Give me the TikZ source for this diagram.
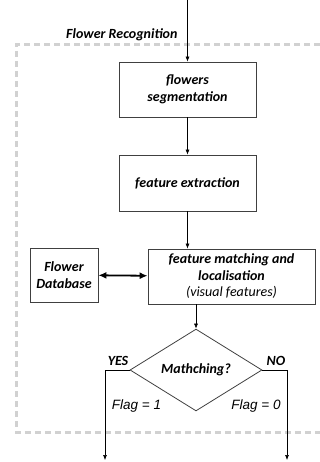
\documentclass[tikz,border=0pt]{standalone}
\usepackage{fontspec}
\setmainfont{Carlito}
\newfontfamily\flagfont{Liberation Sans}
\usetikzlibrary{arrows.meta,shapes.geometric}
\tikzset{
  labeltext/.style={font=\fontsize{14}{16.5}\selectfont\bfseries\itshape},
  blockbox/.style={draw=black!75, line width=0.8pt, align=center, inner sep=2pt, labeltext},
  flagtext/.style={font=\flagfont\fontsize{13.5}{15}\selectfont\itshape},
  flow/.style={-{Latex[length=5pt,width=4pt]}, line width=0.6pt},
}
\begin{document}
\begin{tikzpicture}[x=1pt,y=-1pt]
        \useasboundingbox (0,0) rectangle (320,462);
        % dashed frame of the recognition stage
        \draw[black!18, line width=3pt, dash pattern=on 6pt off 4pt] (340,45) -- (16,45) -- (16,432) -- (340,432);
        \node[anchor=east, labeltext] (title) at (181,35) {Flower Recognition};

        \coordinate (in) at (187.5,0);
        \node[blockbox, minimum width=137pt, minimum height=55pt] (seg) at (187.5,89.5) {flowers\\segmentation};
        \node[blockbox, minimum width=137pt, minimum height=56pt] (extr) at (187.5,183) {feature extraction};
        \node[blockbox, minimum width=167pt, minimum height=55pt] (match) at (231.5,276.5)
          {feature matching and\\localisation\\{\mdseries (visual features)}};
        \node[blockbox, minimum width=68pt, minimum height=54pt] (db) at (64,275) {Flower\\Database};
        \node[blockbox, diamond, minimum width=132pt, minimum height=54pt, inner sep=0pt] (test) at (196,370) {Mathching?};

        \coordinate (yesturn) at (105,370);
        \coordinate (yesout) at (105,460);
        \coordinate (noturn) at (287,370);
        \coordinate (noout) at (287,460);

        \draw[flow] (in) -- (seg);
        \draw[flow] (seg) -- (extr);
        \draw[flow] (extr.south) -- (extr.south |- match.north);
        \draw[{Latex[length=8pt,width=7pt]}-{Latex[length=8pt,width=7pt]}, line width=1.8pt] (db) -- (match);
        \draw[flow] (match.south -| test.north) -- (test.north);
        \draw[flow] (test.west) -- (yesturn) -- (yesout);
        \draw[flow] (test.east) -- (noturn) -- (noout);

        \node[labeltext] (yes) at (118,361) {YES};
        \node[labeltext] (no) at (276,361) {NO};
        \node[flagtext] (flag1) at (136.5,406) {Flag = 1};
        \node[flagtext] (flag0) at (256,406) {Flag = 0};
      \end{tikzpicture}
\end{document}
